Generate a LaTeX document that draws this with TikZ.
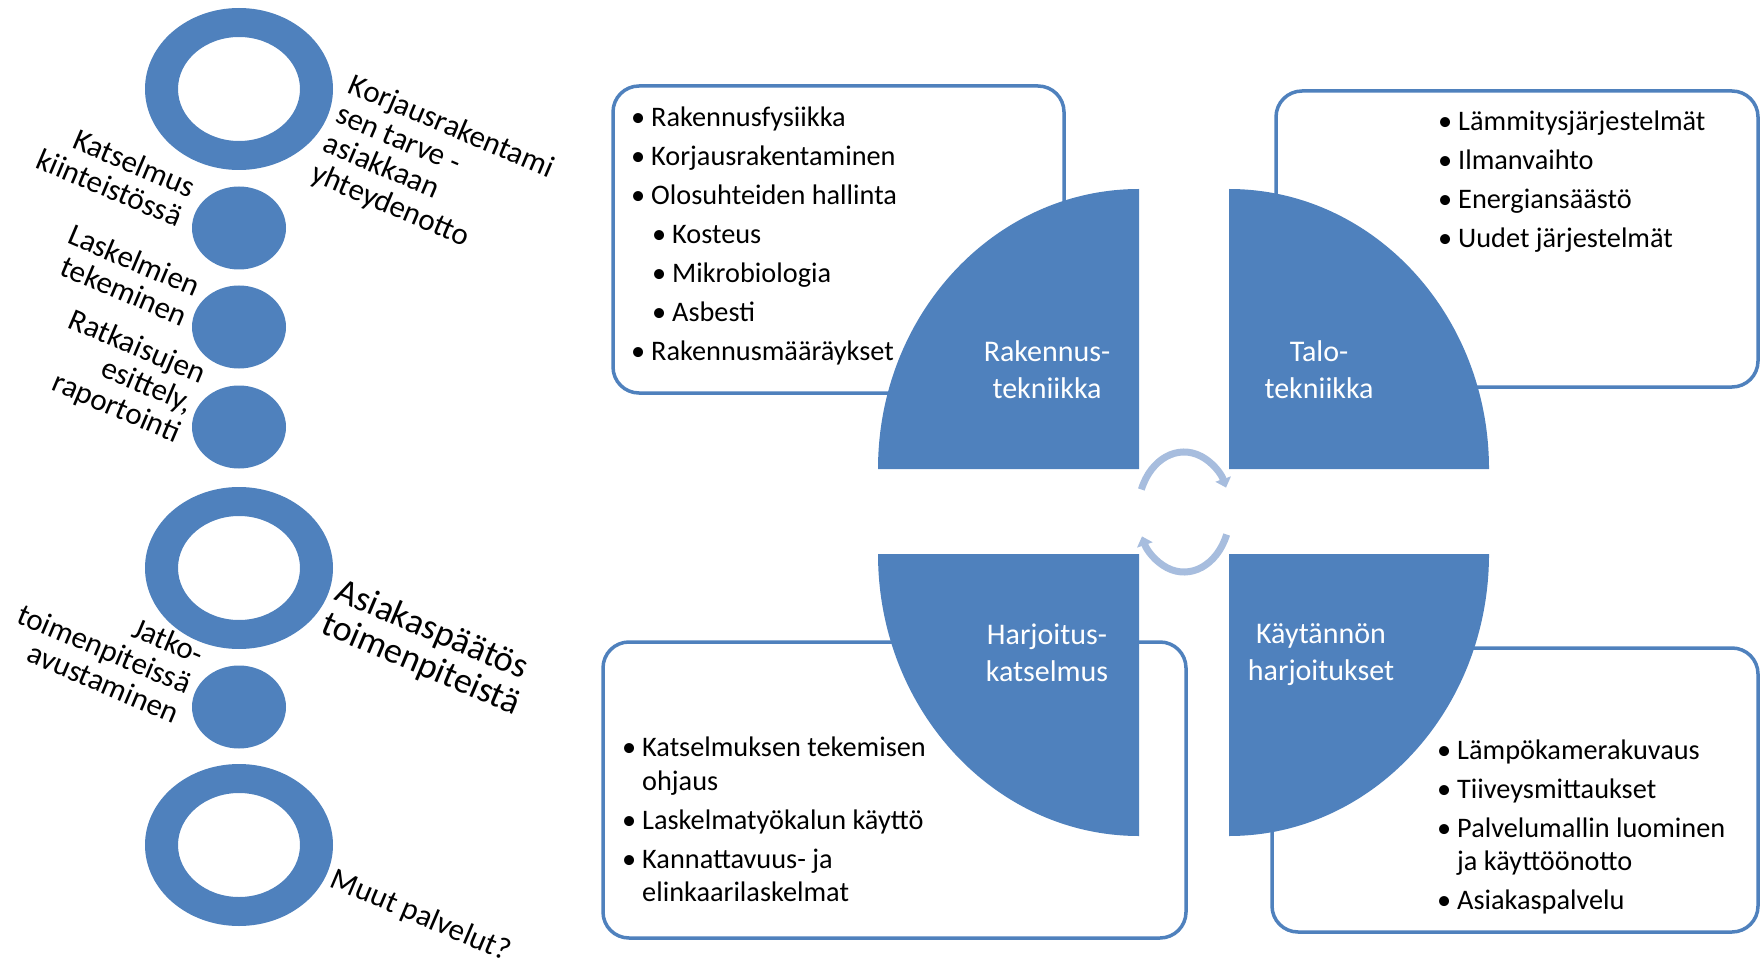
\documentclass[tikz,border=0pt]{standalone}
\usepackage{fontspec}
\setmainfont{Carlito}
\usetikzlibrary{arrows.meta}
\definecolor{accblue}{RGB}{79,129,189}
\definecolor{arrowblue}{RGB}{167,189,222}
\newcommand\mybul{\makebox[20pt][l]{\textbullet}}
\newcommand\mysub{\hspace*{21pt}\makebox[20pt][l]{\textbullet}}
\newcommand\mywrap{\hspace*{20pt}}
\begin{document}
\begin{tikzpicture}[x=1pt,y=-1pt,
  ringshape/.style={fill=accblue, even odd rule},
  dotshape/.style={fill=accblue},
  quarter/.style={fill=accblue},
  infobox/.style={draw=accblue, line width=3.5pt, fill=white, rounded corners=26pt},
  lefttext/.style={font=\fontsize{31}{32}\selectfont, rotate=-23, inner sep=0pt, text=black},
  boxtext/.style={font=\fontsize{28.3}{33.5}\selectfont, inner sep=0pt, anchor=north west},
  qlabel/.style={font=\fontsize{30}{37}\selectfont, text=white, align=center, inner sep=0pt},
  cyc/.style={draw=arrowblue, line width=7pt, -{Triangle[length=9pt,width=16pt]}}
]
\useasboundingbox (0,0) rectangle (1760,965);

% ---- left column: rings and dots ----
\fill[ringshape] (239,89) ellipse [x radius=94, y radius=81] (239,89) ellipse [x radius=61, y radius=52];
\fill[dotshape] (239,228) ellipse [x radius=47, y radius=41.5];
\fill[dotshape] (239,327) ellipse [x radius=47, y radius=41.5];
\fill[dotshape] (239,427) ellipse [x radius=47, y radius=41.5];
\fill[ringshape] (239,568) ellipse [x radius=94, y radius=81] (239,568) ellipse [x radius=61, y radius=52];
\fill[dotshape] (239,707) ellipse [x radius=47, y radius=41.5];
\fill[ringshape] (239,845) ellipse [x radius=94, y radius=81] (239,845) ellipse [x radius=61, y radius=52];

% ---- left column: labels ----
\node[lefttext, anchor=north west, align=left] (l1) at (355,72)
  {Korjausrakentami\\sen tarve -\\asiakkaan\\yhteydenotto};
\node[lefttext, anchor=north east, align=right] (l2) at (198,178)
  {Katselmus\\kiinteistössä};
\node[lefttext, anchor=north east, align=right] (l3) at (203,277)
  {Laskelmien\\tekeminen};
\node[lefttext, anchor=north east, align=right] (l4) at (209,364)
  {Ratkaisujen\\esittely,\\raportointi};
\node[lefttext, anchor=north west, align=left, font=\fontsize{36}{36}\selectfont] (l5) at (343,576)
  {Asiakaspäätös\\toimenpiteistä};
\node[lefttext, anchor=north east, align=right] (l6) at (207,645)
  {Jatko-\\toimenpiteissä\\avustaminen};
\node[lefttext, anchor=north west, align=left] (l7) at (337,866)
  {Muut palvelut?};

% ---- boxes ----
\draw[infobox] (613,86) rectangle (1064,393);
\draw[infobox] (1276,91) rectangle (1758,387);
\draw[infobox] (603,642) rectangle (1186,938);
\draw[infobox] (1272,648) rectangle (1758,932);

% ---- quarter circles ----
\fill[quarter] (1139,469) -- (878,469) arc[start angle=180, end angle=270, x radius=261, y radius=280] -- cycle;
\fill[quarter] (1229,469) -- (1489,469) arc[start angle=0, end angle=-90, x radius=260, y radius=280] -- cycle;
\fill[quarter] (1139,554) -- (878,554) arc[start angle=180, end angle=90, x radius=261, y radius=282] -- cycle;
\fill[quarter] (1229,554) -- (1489,554) arc[start angle=0, end angle=90, x radius=260, y radius=282] -- cycle;

% ---- quarter labels ----
\node[qlabel] (q1) at (1047,370) {Rakennus-\\tekniikka};
\node[qlabel] (q2) at (1319,370) {Talo-\\tekniikka};
\node[qlabel] (q3) at (1047,653) {Harjoitus-\\katselmus};
\node[qlabel] (q4) at (1321,655) {Käytännön\\harjoitukset};

% ---- box texts ----
\node[boxtext] (b1) at (631,102.5) {\begin{tabular}{@{}l@{}}
\mybul Rakennusfysiikka\\[5.5pt]
\mybul Korjausrakentaminen\\[5.5pt]
\mybul Olosuhteiden hallinta\\[5.5pt]
\mysub Kosteus\\[5.5pt]
\mysub Mikrobiologia\\[5.5pt]
\mysub Asbesti\\[5.5pt]
\mybul Rakennusmääräykset
\end{tabular}};
\node[boxtext] (b2) at (1438,106.5) {\begin{tabular}{@{}l@{}}
\mybul Lämmitysjärjestelmät\\[5.5pt]
\mybul Ilmanvaihto\\[5.5pt]
\mybul Energiansäästö\\[5.5pt]
\mybul Uudet järjestelmät
\end{tabular}};
\node[boxtext] (b3) at (622,733) {\begin{tabular}{@{}l@{}}
\mybul Katselmuksen tekemisen\\
\mywrap ohjaus\\[5.5pt]
\mybul Laskelmatyökalun käyttö\\[5.5pt]
\mybul Kannattavuus- ja\\
\mywrap elinkaarilaskelmat
\end{tabular}};
\node[boxtext] (b4) at (1437,735.5) {\begin{tabular}{@{}l@{}}
\mybul Lämpökamerakuvaus\\[5.5pt]
\mybul Tiiveysmittaukset\\[5.5pt]
\mybul Palvelumallin luominen\\
\mywrap ja käyttöönotto\\[5.5pt]
\mybul Asiakaspalvelu
\end{tabular}};

% ---- cycle arrows ----
\coordinate (cc) at (1184,512);
\draw[cyc] ([shift={(202:46 and 60)}]cc) arc[start angle=202, end angle=336, x radius=46, y radius=60];
\draw[cyc] ([shift={(22:46 and 60)}]cc) arc[start angle=22, end angle=156, x radius=46, y radius=60];
\end{tikzpicture}
\end{document}
